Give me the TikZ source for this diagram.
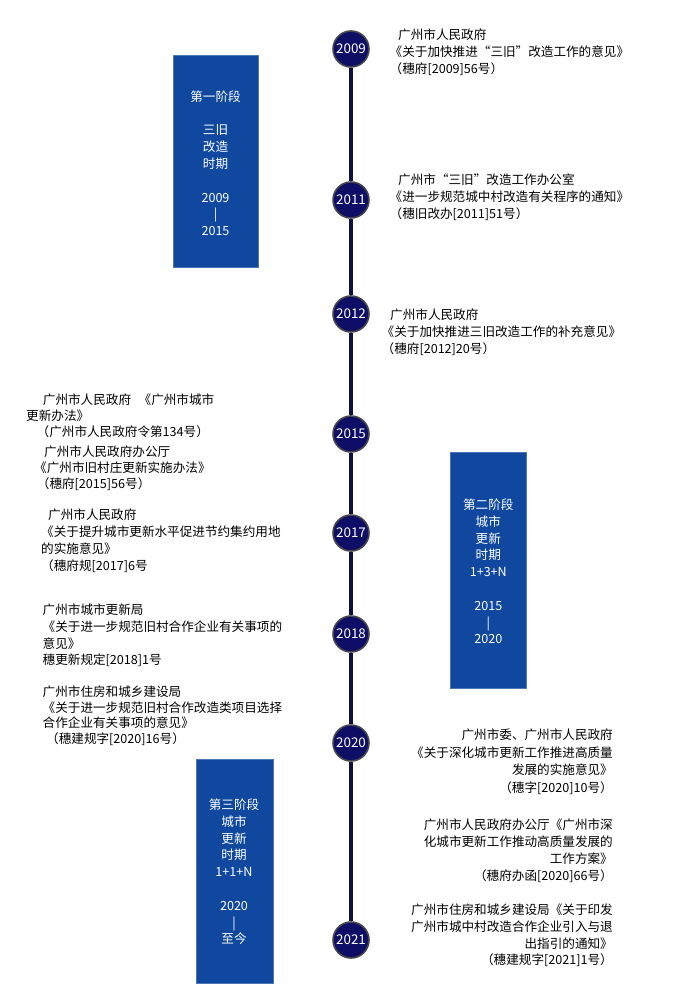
\documentclass[tikz,border=0pt]{standalone}
\usepackage{fontspec}
\setmainfont{Noto Sans CJK SC}
\definecolor{navyc}{RGB}{14,14,102}
\definecolor{linec}{RGB}{16,16,64}
\definecolor{circborder}{RGB}{72,72,76}
\definecolor{phaseblue}{RGB}{16,72,160}
\begin{document}
\begin{tikzpicture}[x=1pt,y=-1pt,
  txt/.style={font=\fontsize{12.6}{16.8}\selectfont, inner sep=0pt, align=left, anchor=north west, text=black},
  rtxt/.style={txt, align=right, anchor=north east},
  yr/.style={circle, draw=circborder, line width=1.6pt, fill=navyc, minimum size=36pt, inner sep=0pt, text=white, font=\fontsize{13.4}{15}\selectfont},
  phase/.style={fill=phaseblue, draw=phaseblue!75!white, line width=0.8pt},
  ptxt/.style={text=white, font=\fontsize{12.6}{16.8}\selectfont, align=center, inner sep=0pt, anchor=north},
  tl/.style={draw=linec, line width=4pt}]
\useasboundingbox (0,0) rectangle (694,1008);

% phase boxes
\path[phase] (173,55) rectangle (258,267);
\node[ptxt] (p1) at (215.5,90.4) {第一阶段\\[16.8pt]三旧\\改造\\时期\\[16.8pt]2009\\|\\2015};
\path[phase] (450,452) rectangle (526,688);
\node[ptxt] (p2) at (488.3,498.7) {第二阶段\\城市\\更新\\时期\\1+3+N\\[16.8pt]2015\\|\\2020};
\path[phase] (196,759) rectangle (273,983);
\node[ptxt] (p3) at (234,798.7) {第三阶段\\城市\\更新\\时期\\1+1+N\\[16.8pt]2020\\|\\至今};

% year circles
\node[yr] (y2009) at (351,49) {2009};
\node[yr] (y2011) at (351,200) {2011};
\node[yr] (y2012) at (351,314) {2012};
\node[yr] (y2015) at (351,434) {2015};
\node[yr] (y2017) at (351,533) {2017};
\node[yr] (y2018) at (351,634) {2018};
\node[yr] (y2020) at (351,743) {2020};
\node[yr] (y2021) at (351,940) {2021};

\draw[tl] (y2009) -- (y2011);
\draw[tl] (y2011) -- (y2012);
\draw[tl] (y2012) -- (y2015);
\draw[tl] (y2015) -- (y2017);
\draw[tl] (y2017) -- (y2018);
\draw[tl] (y2018) -- (y2020);
\draw[tl] (y2020) -- (y2021);

% right-side texts (upper)
\node[txt] (t2009) at (389.5,28.7) {\hspace*{8.5pt}广州市人民政府\\《关于加快推进“三旧”改造工作的意见》\\（穗府[2009]56号）};
\node[txt] (t2011) at (389.5,173.7) {\hspace*{8.5pt}广州市“三旧”改造工作办公室\\《进一步规范城中村改造有关程序的通知》\\（穗旧改办[2011]51号）};
\node[txt] (t2012) at (381.5,308.7) {\hspace*{8.5pt}广州市人民政府\\《关于加快推进三旧改造工作的补充意见》\\（穗府[2012]20号）};

% left-side texts
\node[txt, font=\fontsize{12.6}{16}\selectfont] (t2015a) at (26,393.7) {\hspace*{16.7pt}广州市人民政府\hspace{7.6pt}《广州市城市\\更新办法》\\\hspace*{10.5pt}（广州市人民政府令第134号）};
\node[txt, font=\fontsize{12.6}{16.2}\selectfont] (t2015b) at (34,445.4) {\hspace*{10pt}广州市人民政府办公厅\\《广州市旧村庄更新实施办法》\\\hspace*{2.7pt}（穗府[2015]56号）};
\node[txt, font=\fontsize{12.6}{17}\selectfont] (t2017) at (41,508.7) {\hspace*{7pt}广州市人民政府\\《关于提升城市更新水平促进节约集约用地\\的实施意见》\\（穗府规[2017]6号};
\node[txt] (t2018) at (42.5,603.7) {广州市城市更新局\\《关于进一步规范旧村合作企业有关事项的\\意见》\\穗更新规定[2018]1号};
\node[txt, font=\fontsize{12.6}{15.8}\selectfont] (t2020l) at (42.5,685.4) {广州市住房和城乡建设局\\《关于进一步规范旧村合作改造类项目选择\\合作企业有关事项的意见》\\\hspace*{3.5pt}（穗建规字[2020]16号）};

% right-side texts (lower)
\node[rtxt, font=\fontsize{12.6}{17.6}\selectfont] (t2020r) at (613,728.7) {广州市委、广州市人民政府\\《关于深化城市更新工作推进高质量\\发展的实施意见》\\（穗字[2020]10号）};
\node[rtxt] (t2020b) at (613,818.7) {广州市人民政府办公厅《广州市深\\化城市更新工作推动高质量发展的\\工作方案》\\（穗府办函[2020]66号）};
\node[rtxt] (t2021) at (613,903.7) {广州市住房和城乡建设局《关于印发\\广州市城中村改造合作企业引入与退\\出指引的通知》\\（穗建规字[2021]1号）};
\end{tikzpicture}
\end{document}
